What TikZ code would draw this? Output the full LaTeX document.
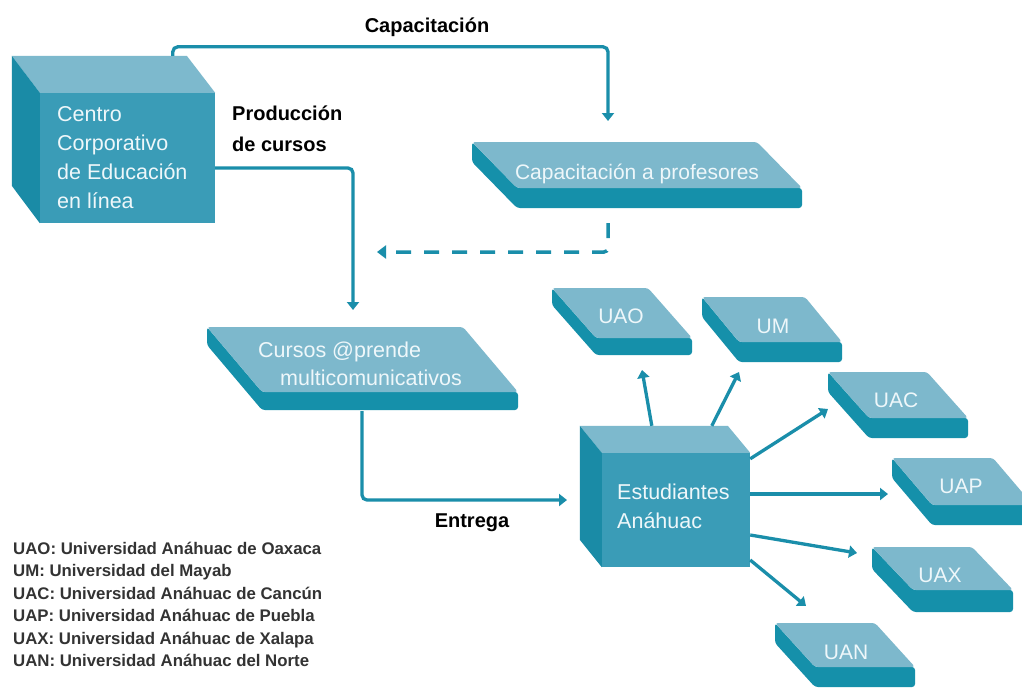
\documentclass[tikz,border=0pt]{standalone}
\usepackage{fontspec}
\setmainfont{Liberation Sans}
\usetikzlibrary{arrows.meta,calc}
\definecolor{tealline}{HTML}{1A8EAA}
\definecolor{facefront}{HTML}{3A9CB7}
\definecolor{facetop}{HTML}{7DB9CD}
\definecolor{faceleft}{HTML}{1A8BA6}
\definecolor{tiletop}{HTML}{7DB8CC}
\definecolor{tileside}{HTML}{1590AA}
\definecolor{boxtext}{HTML}{EEF7FA}
\definecolor{legendgray}{HTML}{333333}
\newcommand\tileshape[6]{%
  \fill[tileside,rounded corners=3pt] (#1,#2) -- (#1+#5,#2+#4) -- (#1+#3+#5,#2+#4) -- (#1+#3+#5,#2+#4+#6) -- (#1+#5,#2+#4+#6) -- (#1,#2+#6) -- cycle;
  \fill[tiletop,rounded corners=3pt] (#1,#2) -- (#1+#3,#2) -- (#1+#3+#5,#2+#4) -- (#1+#5,#2+#4) -- cycle;}
\begin{document}
\begin{tikzpicture}[x=1pt,y=-1pt,
  conn/.style={draw=tealline,line width=3.3pt,rounded corners=5pt,-{Triangle[width=12pt,length=8pt]}},
  dashconn/.style={draw=tealline,line width=3.5pt,dash pattern=on 15pt off 13pt,-{Triangle[width=13pt,length=9pt]}},
  tiletext/.style={text=boxtext,font=\fontsize{21}{27}\selectfont,inner sep=0pt},
  cubefront/.style={fill=facefront,inner sep=0pt},
  cubetext/.style={text=boxtext,font=\fontsize{21.5}{29}\selectfont,align=left,inner sep=0pt,anchor=west},
  lbl/.style={font=\bfseries\fontsize{20}{31}\selectfont,text=black,inner sep=0pt},
  legend/.style={font=\bfseries\fontsize{16.8}{22.4}\selectfont,text=legendgray,align=left,inner sep=0pt}]
\useasboundingbox (0,0) rectangle (1022,689);
\clip (0,0) rectangle (1022,689);
\fill[white] (0,0) rectangle (1022,689);

% Centro cube
\node[cubefront,minimum width=175pt,minimum height=130pt] (centro) at (127.5,158) {};
\fill[facetop] (centro.north west) -- ++(-28,-37) -- ++(175,0) -- (centro.north east) -- cycle;
\fill[faceleft] (centro.north west) -- ++(-28,-37) -- ++(0,130) -- (centro.south west) -- cycle;
\node[cubetext] (centroText) at (57,158) {Centro\\Corporativo\\de Educación\\en línea};

% Estudiantes cube
\node[cubefront,minimum width=148pt,minimum height=114pt] (est) at (676,510) {};
\fill[facetop] (est.north west) -- ++(-22,-27) -- ++(148,0) -- (est.north east) -- cycle;
\fill[faceleft] (est.north west) -- ++(-22,-27) -- ++(0,114) -- (est.south west) -- cycle;
\node[cubetext] (estText) at (617,506) {Estudiantes\\Anáhuac};

% tiles
\tileshape{472}{142}{285}{46}{45}{20}
\node[tiletext] (cap) at (637,174) {Capacitación a profesores};
\tileshape{207}{327}{256}{65}{55}{18}
\node[tiletext,align=left,font=\fontsize{21.5}{28}\selectfont] (cursos) at (360,364) {Cursos @prende\\\hspace*{22pt}multicomunicativos};
\tileshape{552}{288}{96}{50}{44}{17}
\node[tiletext] (uao) at (621,316) {UAO};
\tileshape{702}{297}{103}{45}{37}{20}
\node[tiletext] (um) at (773,326) {UM};
\tileshape{828}{372}{99}{46}{41}{20}
\node[tiletext] (uac) at (896,400) {UAC};
\tileshape{892}{458}{101}{47}{40}{20}
\node[tiletext] (uap) at (961,486) {UAP};
\tileshape{872}{547}{100}{43}{41}{22}
\node[tiletext] (uax) at (940,575) {UAX};
\tileshape{775}{623}{100}{44}{40}{20}
\node[tiletext] (uan) at (846,652) {UAN};

% connector end points
\coordinate (capIn) at (608,121);
\coordinate (cursosIn) at (353,310);
\coordinate (dashEnd) at (377,252);
\coordinate (estIn) at (567,500);
\coordinate (toUAO) at (642,370);
\coordinate (toUM) at (739,372);
\coordinate (toUAC) at (828,409);
\coordinate (toUAP) at (888,494);
\coordinate (toUAX) at (857,553);
\coordinate (toUAN) at (806,606);

% connectors
\draw[conn] ($(centro.north west)+(133,-37)$) -- ++(0,-9) -| (capIn);
\draw[conn] ($(centro.east)+(0,10)$) -| (cursosIn);
\draw[dashconn,rounded corners=4pt] (608,223) |- (dashEnd);
\draw[conn] (362,411) |- (estIn);
\draw[conn] ($(est.north west)+(50,-27)$) -- (toUAO);
\draw[conn] ($(est.north west)+(110,-27)$) -- (toUM);
\draw[conn] ($(est.north east)+(0,6)$) -- (toUAC);
\draw[conn] ($(est.east)+(0,-16)$) -- (toUAP);
\draw[conn] ($(est.east)+(0,25)$) -- (toUAX);
\draw[conn] ($(est.east)+(0,50)$) -- (toUAN);

% labels
\node[lbl] (lcap) at (427,27) {Capacitación};
\node[lbl,align=left,anchor=north west] (lprod) at (232,106) {Producción\\de cursos};
\node[lbl] (lent) at (472,523) {Entrega};

% legend
\node[legend,anchor=north west] (leg) at (13,542) {UAO: Universidad Anáhuac de Oaxaca\\
UM: Universidad del Mayab\\
UAC: Universidad Anáhuac de Cancún\\
UAP: Universidad Anáhuac de Puebla\\
UAX: Universidad Anáhuac de Xalapa\\
UAN: Universidad Anáhuac del Norte};
\end{tikzpicture}
\end{document}
